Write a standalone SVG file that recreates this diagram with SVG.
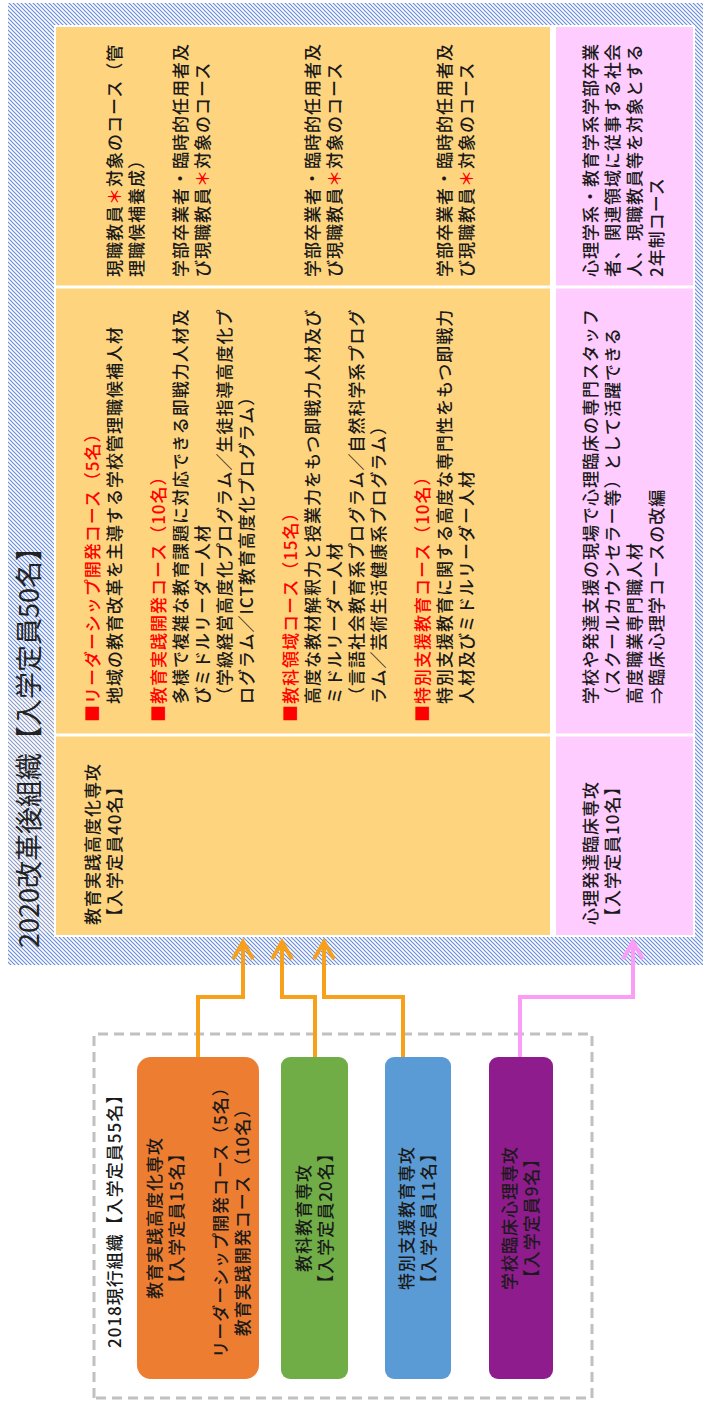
<svg xmlns="http://www.w3.org/2000/svg" width="705" height="1402" viewBox="0 0 705 1402">
<style>
.t{font-family:"Noto Sans CJK JP","Noto Sans CJK SC",sans-serif;font-size:17px;font-weight:500;letter-spacing:1px;fill:#1a1a1a;dominant-baseline:central}
.c{text-anchor:middle}
.r{fill:#ff0000}
.ttl{font-size:27px;font-weight:400;letter-spacing:0;fill:#222}
.ao{fill:none;stroke:#f7a01c;stroke-width:4;stroke-linejoin:miter}
.ap{fill:none;stroke:#fb9cf6;stroke-width:4;stroke-linejoin:miter}
.box{stroke:none}
</style>
<defs>
<pattern id="hb" patternUnits="userSpaceOnUse" width="4" height="4">
<rect width="4" height="4" fill="#ffffff"/>
<path d="M-1,1 L1,-1 M0,4 L4,0 M3,5 L5,3" stroke="#6a8ed8" stroke-width="1.2"/>
</pattern>
<pattern id="hg" patternUnits="userSpaceOnUse" width="4" height="4">
<rect width="4" height="4" fill="#ffffff"/>
<path d="M-1,1 L1,-1 M0,4 L4,0 M3,5 L5,3" stroke="#8d9cc6" stroke-width="1.2"/>
</pattern>
<marker id="mo" markerUnits="userSpaceOnUse" markerWidth="30" markerHeight="30" refX="20" refY="15" orient="auto" overflow="visible">
<path d="M3,5 L20,15 L3,25" fill="none" stroke="#f7a01c" stroke-width="4"/>
</marker>
<marker id="mp" markerUnits="userSpaceOnUse" markerWidth="30" markerHeight="30" refX="20" refY="15" orient="auto" overflow="visible">
<path d="M3,5 L20,15 L3,25" fill="none" stroke="#fb9cf6" stroke-width="4"/>
</marker>
</defs>
<rect width="705" height="1402" fill="#ffffff"/>
<g transform="translate(0,1402) rotate(-90)">
<g id="org2020">
<rect x="437" y="8" width="962" height="695" fill="url(#hb)"/>
<rect x="469" y="8" width="236" height="47" fill="url(#hg)"/>
<rect x="465" y="54" width="912" height="641" fill="#ffffff"/>
<rect x="467" y="56" width="908" height="494" fill="#ffd47f"/>
<rect x="467" y="556" width="908" height="137" fill="#ffccff"/>
<path d="M667,54 V695 M1115,54 V695" stroke="#ffffff" stroke-width="3"/>
<text class="t ttl" x="454" y="27">2020改革後組織【入学定員50名】</text>
</g>
<g id="major-jissen">
<text class="t" x="477" y="91">教育実践高度化専攻</text>
<text class="t" x="477" y="113">【入学定員40名】</text>
</g>
<g id="courses-jissen">
<text class="t r" x="680" y="91">■リーダーシップ開発コース（5名）</text>
<text class="t" x="698" y="113">地域の教育改革を主導する学校管理職候補人材</text>
<text class="t r" x="680" y="157">■教育実践開発コース（10名）</text>
<text class="t" x="698" y="179">多様で複雑な教育課題に対応できる即戦力人材及</text>
<text class="t" x="698" y="201">びミドルリーダー人材</text>
<text class="t" x="698" y="223">（学級経営高度化プログラム／生徒指導高度化プ</text>
<text class="t" x="698" y="245">ログラム／ICT教育高度化プログラム）</text>
<text class="t r" x="680" y="289">■教科領域コース（15名）</text>
<text class="t" x="698" y="311">高度な教材解釈力と授業力をもつ即戦力人材及び</text>
<text class="t" x="698" y="333">ミドルリーダー人材</text>
<text class="t" x="698" y="355">（言語社会教育系プログラム／自然科学系プログ</text>
<text class="t" x="698" y="377">ラム／芸術生活健康系プログラム）</text>
<text class="t r" x="680" y="421">■特別支援教育コース（10名）</text>
<text class="t" x="698" y="443">特別支援教育に関する高度な専門性をもつ即戦力</text>
<text class="t" x="698" y="465">人材及びミドルリーダー人材</text>
</g>
<g id="target-jissen">
<text class="t" x="1125" y="113">現職教員<tspan class="r">＊</tspan>対象のコース（管</text>
<text class="t" x="1125" y="135">理職候補養成）</text>
<text class="t" x="1125" y="179">学部卒業者・臨時的任用者及</text>
<text class="t" x="1125" y="201">び現職教員<tspan class="r">＊</tspan>対象のコース</text>
<text class="t" x="1125" y="311">学部卒業者・臨時的任用者及</text>
<text class="t" x="1125" y="333">び現職教員<tspan class="r">＊</tspan>対象のコース</text>
<text class="t" x="1125" y="443">学部卒業者・臨時的任用者及</text>
<text class="t" x="1125" y="465">び現職教員<tspan class="r">＊</tspan>対象のコース</text>
</g>
<g id="major-shinri">
<text class="t" x="477" y="589">心理発達臨床専攻</text>
<text class="t" x="477" y="611">【入学定員10名】</text>
</g>
<g id="courses-shinri">
<text class="t" x="698" y="589">学校や発達支援の現場で心理臨床の専門スタッフ</text>
<text class="t" x="698" y="611">（スクールカウンセラー等）として活躍できる</text>
<text class="t" x="698" y="633">高度職業専門職人材</text>
<text class="t" x="698" y="655">⇒臨床心理学コースの改編</text>
</g>
<g id="target-shinri">
<text class="t" x="1125" y="589">心理学系・教育学系学部卒業</text>
<text class="t" x="1125" y="611">者、関連領域に従事する社会</text>
<text class="t" x="1125" y="633">人、現職教員等を対象とする</text>
<text class="t" x="1125" y="655">2年制コース</text>
</g>
<g id="org2018">
<rect x="4" y="94" width="364" height="498" fill="none" stroke="#c0c0c0" stroke-width="3" stroke-dasharray="10 6"/>
<text class="t" x="54" y="113">2018現行組織【入学定員55名】</text>
</g>
<g id="node-jissen2018">
<rect class="box" x="23" y="137" width="322" height="122" rx="14" fill="#ed7d31"/>
<text class="t c" x="184" y="153">教育実践高度化専攻</text>
<text class="t c" x="184" y="175">【入学定員15名】</text>
<text class="t c" x="184" y="219">リーダーシップ開発コース（5名）</text>
<text class="t c" x="184" y="241">教育実践開発コース（10名）</text>
</g>
<g id="node-kyoka2018">
<rect class="box" x="23" y="281" width="322" height="67" rx="9" fill="#70ad47"/>
<text class="t c" x="184" y="302">教科教育専攻</text>
<text class="t c" x="184" y="324">【入学定員20名】</text>
</g>
<g id="node-tokubetsu2018">
<rect class="box" x="23" y="385" width="322" height="66" rx="9" fill="#5b9bd5"/>
<text class="t c" x="184" y="405">特別支援教育専攻</text>
<text class="t c" x="184" y="427">【入学定員11名】</text>
</g>
<g id="node-shinri2018">
<rect class="box" x="23" y="489" width="322" height="64" rx="9" fill="#8e1c8c"/>
<text class="t c" x="184" y="508">学校臨床心理専攻</text>
<text class="t c" x="184" y="530">【入学定員9名】</text>
</g>
<g id="connectors">
<path class="ao" d="M345,198 H405 V243 H460" marker-end="url(#mo)"/>
<path class="ao" d="M345,315 H405 V282 H460" marker-end="url(#mo)"/>
<path class="ao" d="M345,403 H405 V324 H460" marker-end="url(#mo)"/>
<path class="ap" d="M345,520 H405 V633 H460" marker-end="url(#mp)"/>
</g>
</g>
</svg>
